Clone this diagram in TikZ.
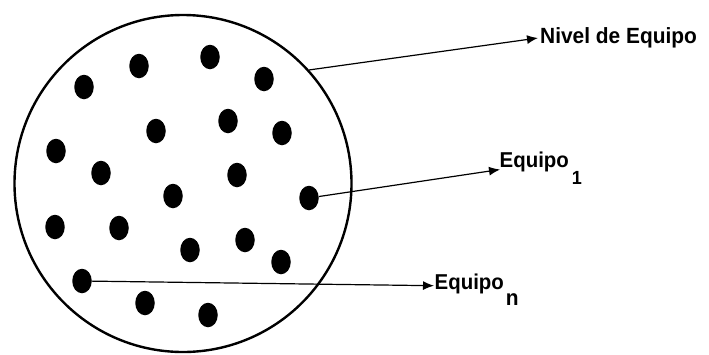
\documentclass[tikz,border=0pt]{standalone}
\usepackage{fontspec}
\setmainfont{Liberation Sans}
\newfontfamily\lblfont{Liberation Sans}[FakeStretch=0.95]
\usetikzlibrary{shapes.geometric,arrows.meta}
\begin{document}
\begin{tikzpicture}[x=1pt,y=-1pt,
  dot/.style={ellipse,fill=black,inner sep=0pt,minimum width=19.5pt,minimum height=24.5pt},
  bigcirc/.style={circle,draw=black,line width=2.4pt,inner sep=0pt,minimum size=337pt},
  arr/.style={line width=1.2pt,-{Latex[length=11pt,width=9pt]}},
  lbl/.style={anchor=base west,inner sep=0pt,font=\lblfont\bfseries\fontsize{21.5}{24}\selectfont}
]
\useasboundingbox (0,0) rectangle (709,354);
\node[bigcirc] (big) at (183,183.5) {};
\foreach \x/\y [count=\i] in {84/87,139/66,210/57,264/79,156/131,228/121,282/133,56/151,101/173,237/175,173/196,309/198,55/227,119/228,190/250,245/240,281/262,82/281,145/303,208/315}
  \node[dot] (d\i) at (\x,\y) {};
\coordinate (tN) at (538,38);
\coordinate (t1) at (500,169.5);
\coordinate (tn) at (434,285.7);
\node[lbl,font=\lblfont\bfseries\fontsize{22}{24}\selectfont] (lN) at (540,43.5) {Nivel de Equipo};
\node[lbl] (l1) at (499.5,167) {Equipo\hspace{3pt}\raisebox{-17pt}{\fontsize{19}{21}\selectfont 1}};
\node[lbl] (ln) at (434.5,289) {Equipo\hspace{2pt}\raisebox{-16pt}{\fontsize{22}{24}\selectfont n}};
\draw[arr] (big.42) -- (tN);
\draw[arr] (d12) -- (t1);
\draw[arr] (d18) -- (tn);
\end{tikzpicture}
\end{document}
